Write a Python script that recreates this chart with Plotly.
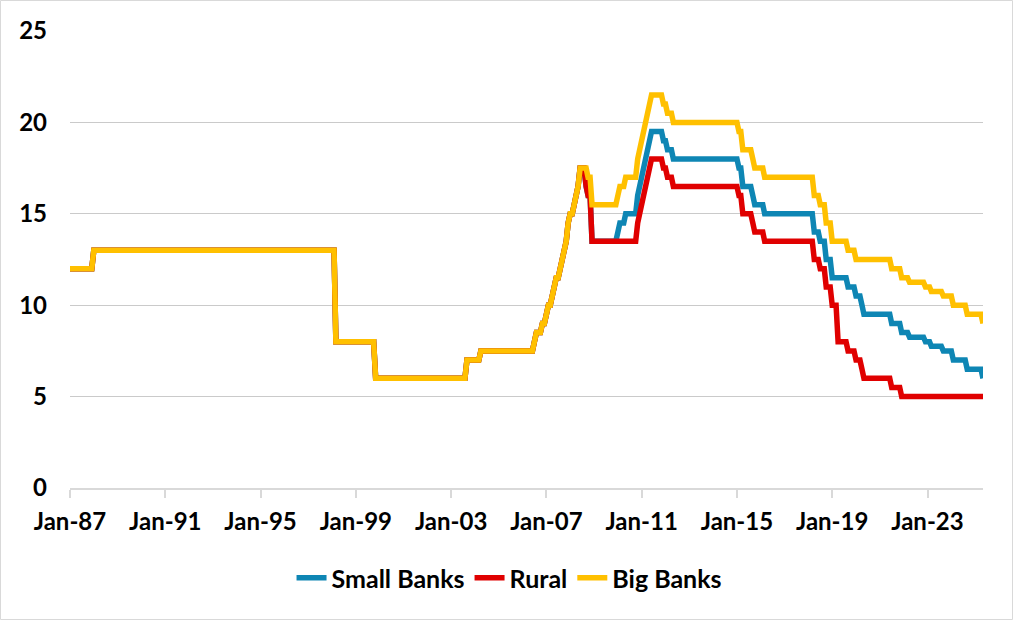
import pandas as pd
import plotly.graph_objects as go

# ---- Data: reserve requirement ratio (%) change points (month, level) ----
# Shared history (all bank types identical until mid-2008)
shared_months = ["1987-01", "1988-01", "1998-03", "1999-11", "2003-09", "2004-04",
                 "2006-07", "2006-08", "2006-11", "2007-01", "2007-02", "2007-04",
                 "2007-05", "2007-06", "2007-08", "2007-09", "2007-10", "2007-11",
                 "2007-12", "2008-01", "2008-03", "2008-04", "2008-05", "2008-06"]
shared_levels = [12, 13, 8, 6, 7, 7.5,
                 8, 8.5, 9, 9.5, 10, 10.5,
                 11, 11.5, 12, 12.5, 13, 13.5,
                 14.5, 15, 15.5, 16, 16.5, 17.5]

big_months = ["2008-10", "2008-12", "2010-01", "2010-02", "2010-05", "2010-11",
              "2010-12", "2011-01", "2011-02", "2011-03", "2011-04", "2011-05",
              "2011-06", "2011-12", "2012-02", "2012-05", "2015-02", "2015-04",
              "2015-09", "2015-10", "2016-03", "2018-04", "2018-07", "2018-10",
              "2019-01", "2019-09", "2020-01", "2021-07", "2021-12", "2022-04",
              "2022-12", "2023-03", "2023-09", "2024-02", "2024-09", "2025-05"]
big_levels = [17, 15.5, 16, 16.5, 17, 18,
              18.5, 19, 19.5, 20, 20.5, 21,
              21.5, 21, 20.5, 20, 19.5, 18.5,
              18, 17.5, 17, 16, 15.5, 14.5,
              13.5, 13, 12.5, 12, 11.5, 11.25,
              11, 10.75, 10.5, 10, 9.5, 9]

small_months = ["2008-09", "2008-10", "2008-12", "2010-01", "2010-02", "2010-05",
                "2010-11", "2010-12", "2011-01", "2011-02", "2011-03", "2011-04",
                "2011-05", "2011-06", "2011-12", "2012-02", "2012-05", "2015-02",
                "2015-04", "2015-09", "2015-10", "2016-03", "2018-04", "2018-07",
                "2018-10", "2019-01", "2019-09", "2020-01", "2020-04", "2020-05",
                "2021-07", "2021-12", "2022-04", "2022-12", "2023-03", "2023-09",
                "2024-02", "2024-09", "2025-05"]
small_levels = [16.5, 16, 13.5, 14, 14.5, 15,
                16, 16.5, 17, 17.5, 18, 18.5,
                19, 19.5, 19, 18.5, 18, 17.5,
                16.5, 16, 15.5, 15, 14, 13.5,
                12.5, 11.5, 11, 10.5, 10, 9.5,
                9, 8.5, 8.25, 8, 7.75, 7.5,
                7, 6.5, 6]

rural_months = ["2008-09", "2008-10", "2008-12", "2010-11", "2010-12", "2011-01",
                "2011-02", "2011-03", "2011-04", "2011-05", "2011-06", "2011-12",
                "2012-02", "2012-05", "2015-02", "2015-04", "2015-09", "2015-10",
                "2016-03", "2018-04", "2018-07", "2018-10", "2019-01", "2019-04",
                "2019-09", "2020-01", "2020-04", "2020-05", "2021-07", "2021-12"]
rural_levels = [16.5, 16, 13.5, 14.5, 15, 15.5,
                16, 16.5, 17, 17.5, 18, 17.5,
                17, 16.5, 16, 15, 14.5, 14,
                13.5, 12.5, 12, 11, 10, 8,
                7.5, 7, 6.5, 6, 5.5, 5]

first_month = "1987-01"
last_month = "2025-05"

tick_months = ["1987-01", "1991-01", "1995-01", "1999-01", "2003-01",
               "2007-01", "2011-01", "2015-01", "2019-01", "2023-01"]
tick_labels = ["Jan-87", "Jan-91", "Jan-95", "Jan-99", "Jan-03",
               "Jan-07", "Jan-11", "Jan-15", "Jan-19", "Jan-23"]

series_names = ["Small Banks", "Rural", "Big Banks"]
series_colors = ["#0E86B4", "#E00000", "#FFC000"]

# ---- Build monthly step-held series from the change points ----
months = pd.period_range(first_month, last_month, freq="M")


def monthly(change_months, change_levels):
    s = pd.Series(float("nan"), index=months)
    for m, v in zip(shared_months + change_months, shared_levels + change_levels):
        s[pd.Period(m, freq="M")] = v
    return s.ffill()


series = [monthly(small_months, small_levels),
          monthly(rural_months, rural_levels),
          monthly(big_months, big_levels)]

x_dates = months.to_timestamp()

fig = go.Figure()
for name, color, s in zip(series_names, series_colors, series):
    fig.add_trace(go.Scatter(x=x_dates, y=s.values, mode="lines", name=name,
                             line=dict(color=color, width=5.5)))

FONT = "Lato"
FS = 24
L, R, T, B = 70, 30, 31, 132
W, H = 1013, 620
pw, ph = W - L - R, H - T - B

fig.update_layout(
    width=W, height=H,
    margin=dict(l=L, r=R, t=T, b=B),
    paper_bgcolor="white", plot_bgcolor="white",
    font=dict(family=FONT, size=FS, color="black", weight="bold"),
    showlegend=True,
    legend=dict(orientation="h", xref="container", yref="container",
                x=0.503, xanchor="center", y=1 - 578 / 620, yanchor="middle",
                font=dict(family=FONT, size=FS + 1, color="black", weight="bold"),
                bgcolor="rgba(0,0,0,0)"),
    xaxis=dict(type="date",
               range=[pd.Timestamp(first_month), pd.Timestamp(last_month)],
               tickvals=[pd.Timestamp(m) for m in tick_months],
               ticktext=tick_labels,
               showgrid=False, zeroline=False,
               showline=True, linecolor="#D9D9D9", linewidth=1.5,
               ticks="outside", ticklen=8, tickcolor="#D9D9D9", tickwidth=1.5,
               tickfont=dict(family=FONT, size=FS, color="black", weight="bold"),
               ticklabelstandoff=3),
    yaxis=dict(range=[0, 25], tick0=0, dtick=5,
               showgrid=True, gridcolor="#CACACA", gridwidth=1.3,
               zeroline=False, showline=False, ticks="",
               tickfont=dict(family=FONT, size=FS, color="black", weight="bold"),
               ticklabelstandoff=22),
    shapes=[dict(type="rect", xref="paper", yref="paper",
                 x0=(0.5 - L) / pw, x1=(W - 0.5 - L) / pw,
                 y0=(H - B - (H - 0.5)) / ph, y1=(H - B - 0.5) / ph,
                 line=dict(color="#D9D9D9", width=1), fillcolor="rgba(0,0,0,0)",
                 layer="below")],
)

fig.write_html("out.html", config={"displayModeBar": False},
               post_script="document.body.style.margin='0';document.body.style.padding='0';")
